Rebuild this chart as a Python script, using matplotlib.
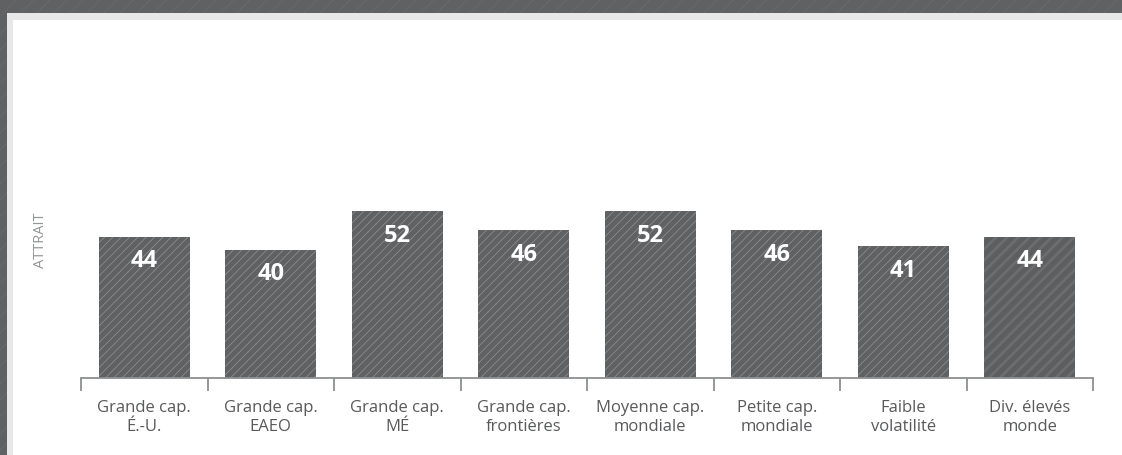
import matplotlib
matplotlib.use('Agg')
import matplotlib.pyplot as plt
from matplotlib.patches import Rectangle

plt.rcParams['font.family'] = ['Open Sans', 'DejaVu Sans']
plt.rcParams['hatch.linewidth'] = 0.5

categories = ['Grande cap.\nÉ.-U.', 'Grande cap.\nEAEO', 'Grande cap.\nMÉ',
              'Grande cap.\nfrontières', 'Moyenne cap.\nmondiale',
              'Petite cap.\nmondiale', 'Faible\nvolatilité', 'Div. élevés\nmonde']
attrait = [44, 40, 52, 46, 52, 46, 41, 44]

W, H = 1122, 455
fig = plt.figure(figsize=(W / 100, H / 100), dpi=100)

# page frame: hatched dark border, light grey band, white panel
fig.patches.append(Rectangle((0, 0), 1, 1, transform=fig.transFigure,
                             facecolor='#606163', edgecolor='#6b6c6e',
                             hatch='//', linewidth=0, zorder=-3))
fig.patches.append(Rectangle((7 / W, 0), 1, 1 - 13 / H, transform=fig.transFigure,
                             facecolor='#e8e8e9', linewidth=0, zorder=-2))
fig.patches.append(Rectangle((13 / W, 0), 1, 1 - 20 / H, transform=fig.transFigure,
                             facecolor='white', linewidth=0, zorder=-1))

ax = fig.add_axes([81 / W, 77 / H, 1012 / W, 321 / H])
ax.set_facecolor('none')

x = range(len(categories))
bars = ax.bar(x, attrait, width=0.72, color='#606163', edgecolor='#939496',
              hatch='////', linewidth=0)
# last bar: softer, wider stripes
last = bars[-1]
last.set_facecolor('#5d5e60')
last.set_edgecolor('#6c6d6f')
last.set_hatch('///')
if hasattr(last, 'set_hatch_linewidth'):
    last.set_hatch_linewidth(2.0)

for xi, v in zip(x, attrait):
    ax.annotate(str(v), (xi, v), xytext=(0, -9), textcoords='offset points',
                ha='center', va='top', color='white', fontsize=17,
                fontweight='bold')

ax.set_xlim(-0.5, len(categories) - 0.5)
ax.set_ylim(0, 100)
ax.set_yticks([])
for s in ['top', 'right', 'left']:
    ax.spines[s].set_visible(False)
ax.spines['bottom'].set_color('#8e8f91')
ax.spines['bottom'].set_linewidth(1.3)

ax.set_xticks(list(x))
ax.set_xticklabels(categories, fontsize=12, color='#58595b', linespacing=1.2)
ax.tick_params(axis='x', which='major', length=0, pad=16)
ax.set_xticks([i - 0.5 for i in range(len(categories) + 1)], minor=True)
ax.tick_params(axis='x', which='minor', length=9, width=1.3, color='#8e8f91')

fig.text(40 / W, 1 - 240 / H, 'ATTRAIT', rotation=90, ha='center', va='center',
         fontsize=10.5, color='#939598')

fig.savefig('out.png', dpi=100)
